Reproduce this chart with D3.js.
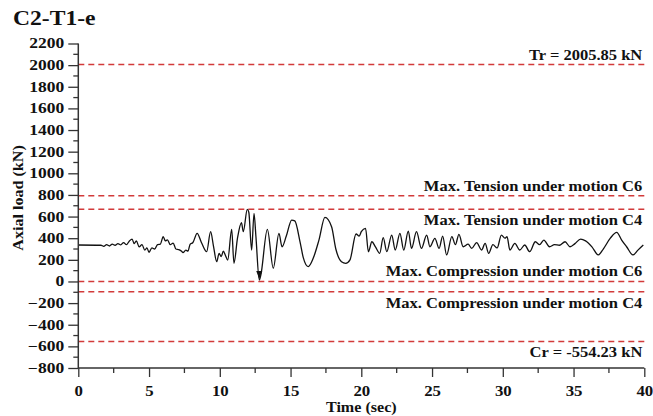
<!DOCTYPE html>
<html>
<head>
<meta charset="utf-8">
<script src="https://cdn.jsdelivr.net/npm/d3@7"></script>
<style>
  html, body { margin: 0; padding: 0; background: #fff; }
  svg { display: block; }
</style>
</head>
<body>
<svg id="chart" width="653" height="416"></svg>
<script>
// ---- data ----
const title = "C2-T1-e";
const xLabel = "Time (sec)";
const yLabel = "Axial load (kN)";
const xTicks = [0, 5, 10, 15, 20, 25, 30, 35, 40];
const yTicks = [-800, -600, -400, -200, 0, 200, 400, 600, 800, 1000, 1200, 1400, 1600, 1800, 2000, 2200];

const refValues = [2005.85, 792, 667, 0, -94, -554.23];
const refLabels = [
  "Tr = 2005.85 kN",
  "Max. Tension under motion C6",
  "Max. Tension under motion C4",
  "Max. Compression under motion C6",
  "Max. Compression under motion C4",
  "Cr = -554.23 kN"
];
const refLabelAbove = [true, true, false, true, false, false];

const time = [0, 1.6, 1.8, 2.0, 2.2, 2.4, 2.6, 2.8, 3.0, 3.2, 3.4, 3.6, 3.8, 3.95, 4.1, 4.3, 4.5, 4.7, 4.85, 5.0,
  5.2, 5.4, 5.6, 5.8, 6.0, 6.15, 6.3, 6.5, 6.7, 6.9, 7.1, 7.3, 7.4, 7.6, 7.75, 7.9, 8.1, 8.4, 8.7, 9.07,
  9.35, 9.55, 9.78, 9.95, 10.1, 10.25, 10.4, 10.56, 10.84, 11.0, 11.25, 11.53, 11.66, 11.94, 12.05, 12.25, 12.42, 12.55, 12.79, 12.9,
  13.36, 13.78, 14.18, 14.4, 14.7, 15.08, 15.3, 15.67, 15.9, 16.25, 16.6, 17.0, 17.43, 17.9, 18.2, 18.6, 18.9, 19.2, 19.63, 19.85,
  20.0, 20.3, 20.5, 20.75, 21.0, 21.3, 21.55, 21.8, 22.15, 22.4, 22.73, 23.0, 23.32, 23.55, 23.9, 24.25, 24.62, 24.85, 25.2, 25.5,
  25.75, 26.03, 26.4, 26.65, 26.9, 27.2, 27.55, 27.8, 28.15, 28.5, 28.75, 29.0, 29.3, 29.6, 29.9, 30.15, 30.3, 30.5, 30.85, 31.2,
  31.55, 31.9, 32.3, 32.6, 32.9, 33.3, 33.65, 34.0, 34.4, 34.75, 35.1, 35.5, 35.85, 36.3, 36.75, 37.1, 37.6, 38.05, 38.4, 38.75,
  39.2, 39.55, 39.93];
const load = [337, 335, 325, 340, 328, 345, 335, 350, 338, 360, 340, 372, 392, 350, 375, 320, 340, 290, 310, 270,
  310, 300, 340, 345, 414, 375, 385, 340, 355, 300, 295, 280, 266, 290, 280, 343, 360, 445, 360, 275,
  460, 330, 183, 260, 230, 280, 240, 198, 482, 168, 400, 543, 460, 667, 640, 291, 630, 420, 14, 60,
  482, 122, 445, 321, 420, 568, 560, 367, 220, 137, 214, 380, 592, 506, 300, 183, 168, 200, 439, 420,
  460, 491, 275, 367, 320, 260, 405, 275, 429, 291, 445, 290, 466, 306, 460, 306, 429, 321, 399, 306,
  420, 245, 414, 340, 436, 321, 345, 306, 360, 291, 352, 260, 340, 310, 429, 400, 414, 291, 352, 291,
  337, 275, 367, 340, 383, 321, 340, 335, 367, 321, 350, 392, 375, 320, 245, 300, 400, 454, 383, 321,
  245, 290, 337];

// ---- drawing ----
const FONT = "'Liberation Serif', 'Times New Roman', Times, 'DejaVu Serif', serif";
const svg = d3.select("#chart");
const x = d3.scaleLinear().domain([0, 40]).range([78.3, 644.3]);
const y = d3.scaleLinear().domain([-800, 2200]).range([368, 43.5]);
const axisColor = "#333";

function txt(sel) {
  return sel.attr("font-family", FONT).attr("font-weight", "bold").attr("fill", "#111");
}

// title
txt(svg.append("text")).attr("transform", "translate(13,25) scale(1.18,1)")
  .attr("font-size", 20).text(title);

// reference dashed lines
const refG = svg.append("g");
refValues.forEach((v, i) => {
  refG.append("line")
    .attr("x1", x(0)).attr("x2", x(40))
    .attr("y1", y(v)).attr("y2", y(v))
    .attr("stroke", "#d23a3a").attr("stroke-width", 1.5)
    .attr("stroke-dasharray", "6,4");
  const ty = refLabelAbove[i] ? y(v) - 5 : y(v) + 16;
  txt(refG.append("text"))
    .attr("transform", `translate(${x(40) - 2},${ty}) scale(1.18,1)`)
    .attr("text-anchor", "end").attr("font-size", 14)
    .text(refLabels[i]);
});

// curve
const data = time.map((t, i) => ({ t, v: load[i] }));
const line = d3.line().x(d => x(d.t)).y(d => y(d.v)).curve(d3.curveMonotoneX);
svg.append("path").datum(data)
  .attr("fill", "none").attr("stroke", "#111").attr("stroke-width", 1.3)
  .attr("d", line);

// small arrow marker at minimum
const minPt = data.reduce((a, b) => (b.v < a.v ? b : a));
svg.append("path")
  .attr("d", `M${x(minPt.t) - 3},${y(minPt.v) - 9} L${x(minPt.t) + 3},${y(minPt.v) - 9} L${x(minPt.t)},${y(minPt.v) - 1} Z`)
  .attr("fill", "#111");

// y axis
const yAxis = d3.axisLeft(y).tickValues(yTicks).tickSize(10).tickPadding(4).tickFormat(d3.format("d"));
const yG = svg.append("g").attr("transform", `translate(${x(0)},0)`).call(yAxis);
yG.attr("font-family", FONT);
yG.select(".domain").attr("stroke", axisColor).attr("stroke-width", 1.5).attr("d", `M0,${y(-800)}V${y(2200)}`);
yG.selectAll(".tick line").attr("stroke", axisColor).attr("stroke-width", 1.3);
txt(yG.selectAll(".tick text")).attr("font-size", 14)
  .attr("x", null).attr("transform", "translate(-14,0) scale(1.25,1)");
// minor y ticks
const yMinor = d3.range(-700, 2200, 200);
svg.append("g").selectAll("line").data(yMinor).join("line")
  .attr("x1", x(0) - 5).attr("x2", x(0)).attr("y1", d => y(d)).attr("y2", d => y(d))
  .attr("stroke", axisColor).attr("stroke-width", 1.3);

// x axis
const xAxis = d3.axisBottom(x).tickValues(xTicks).tickSize(9).tickPadding(8).tickFormat(d3.format("d"));
const xG = svg.append("g").attr("transform", `translate(0,${y(-800)})`).call(xAxis);
xG.attr("font-family", FONT);
xG.select(".domain").attr("stroke", axisColor).attr("stroke-width", 1.5).attr("d", `M${x(0)},0H${x(40)}`);
xG.selectAll(".tick line").attr("stroke", axisColor).attr("stroke-width", 1.3);
txt(xG.selectAll(".tick text")).attr("font-size", 15)
  .attr("y", null).attr("dy", null).attr("transform", "translate(0,28) scale(1.12,1)");
const xMinor = d3.range(2.5, 40, 5);
svg.append("g").selectAll("line").data(xMinor).join("line")
  .attr("x1", d => x(d)).attr("x2", d => x(d)).attr("y1", y(-800)).attr("y2", y(-800) + 5)
  .attr("stroke", axisColor).attr("stroke-width", 1.3);

// axis labels
txt(svg.append("text")).attr("transform", `translate(${(x(0) + x(40)) / 2},412) scale(1.15,1)`)
  .attr("text-anchor", "middle").attr("font-size", 14).text(xLabel);
txt(svg.append("text")).attr("transform", `translate(23,198) rotate(-90) scale(1.15,1)`)
  .attr("text-anchor", "middle").attr("font-size", 14).text(yLabel);
</script>
</body>
</html>
